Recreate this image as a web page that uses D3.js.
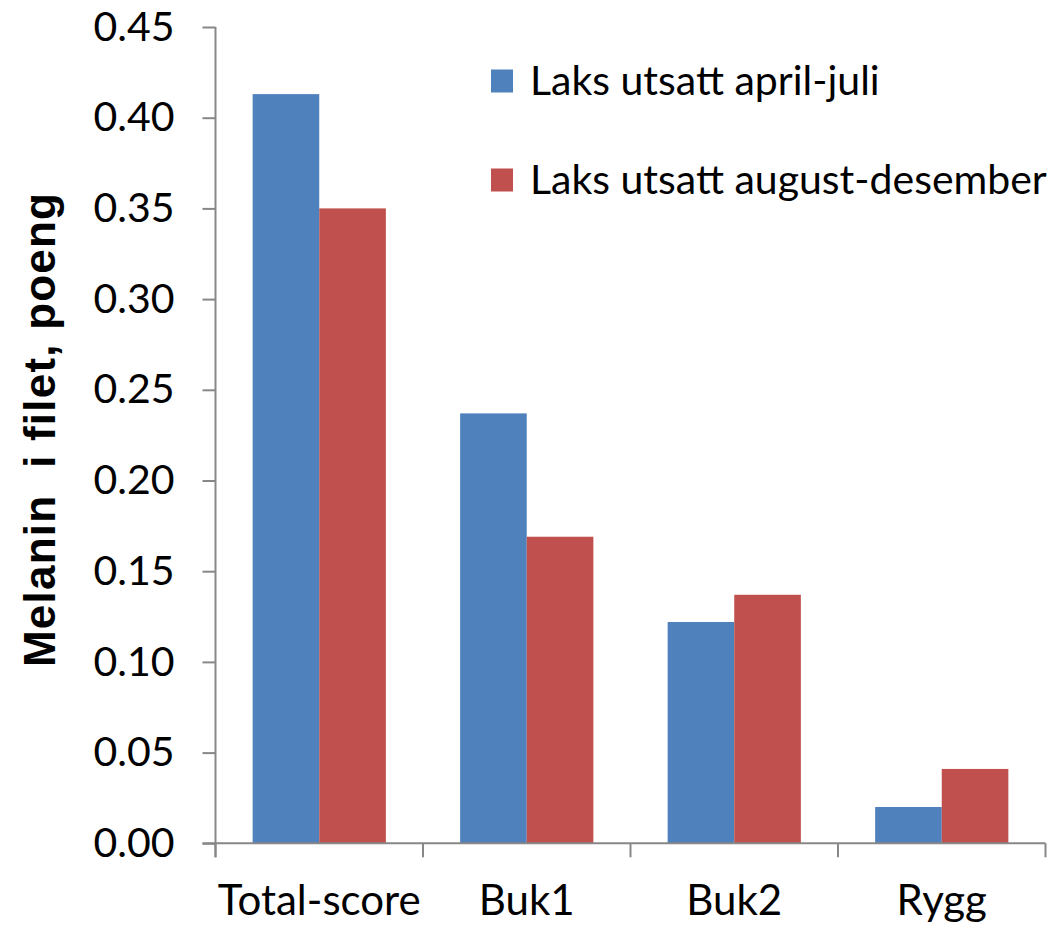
<!DOCTYPE html>
<html>
<head>
<meta charset="utf-8">
<script src="https://cdn.jsdelivr.net/npm/d3@7"></script>
<style>
  html, body { margin: 0; padding: 0; background: #fff; }
  svg { display: block; }
</style>
</head>
<body>
<svg id="chart" width="1053" height="925"></svg>
<script>
const categories = ["Total-score", "Buk1", "Buk2", "Rygg"];
const seriesNames = ["Laks utsatt april-juli", "Laks utsatt august-desember"];
const seriesAprilJuli = [0.413, 0.237, 0.122, 0.020];
const seriesAugustDesember = [0.350, 0.169, 0.137, 0.041];
const yTicks = [0, 0.05, 0.10, 0.15, 0.20, 0.25, 0.30, 0.35, 0.40, 0.45];
const yTitle = "Melanin  i filet, poeng";
const colors = ["#4F81BD", "#C0504D"];

(function () {
const svg = d3.select("#chart");
const mLeft = 215.5, mRight = 1045.5, mTop = 27, mBottom = 843.3;
const fontFam = "Lato, 'Open Sans', sans-serif";

const x = d3.scaleBand().domain(categories).range([mLeft, mRight]).paddingInner(0.358).paddingOuter(0.179);
const xs = d3.scaleBand().domain(seriesNames).range([0, x.bandwidth()]);
const y = d3.scaleLinear().domain([0, 0.45]).range([mBottom, mTop]);

const data = [seriesAprilJuli, seriesAugustDesember];

// bars
const g = svg.append("g");
categories.forEach((c, i) => {
  seriesNames.forEach((s, j) => {
    g.append("rect")
      .attr("x", x(c) + xs(s))
      .attr("y", y(data[j][i]))
      .attr("width", xs.bandwidth())
      .attr("height", y(0) - y(data[j][i]))
      .attr("fill", colors[j]);
  });
});

// y axis
const yAxis = d3.axisLeft(y).tickValues(yTicks).tickFormat(d3.format(".2f")).tickSize(13).tickPadding(28);
const ya = svg.append("g").attr("transform", `translate(${mLeft},0)`).call(yAxis);
ya.select(".domain").attr("stroke", "#878787").attr("stroke-width", 2).attr("d", `M0,${mTop}V${mBottom + 14}`);
ya.selectAll(".tick line").attr("stroke", "#878787").attr("stroke-width", 2);
ya.selectAll(".tick text").attr("font-family", fontFam).attr("font-size", 41).attr("fill", "#000");

// x axis (ticks at category boundaries)
const xg = svg.append("g");
xg.append("line").attr("x1", mLeft - 13).attr("x2", mRight).attr("y1", mBottom).attr("y2", mBottom)
  .attr("stroke", "#878787").attr("stroke-width", 2);
const tickXs = categories.map(c => x(c) - x.step() * x.paddingOuter()).concat([mRight]);
xg.selectAll("line.tk").data(tickXs).join("line").attr("class", "tk")
  .attr("x1", d => d).attr("x2", d => d).attr("y1", mBottom).attr("y2", mBottom + 14)
  .attr("stroke", "#878787").attr("stroke-width", 2);
xg.selectAll("text").data(categories).join("text")
  .attr("x", d => x(d) + x.bandwidth() / 2)
  .attr("y", 915)
  .attr("text-anchor", "middle")
  .attr("font-family", fontFam).attr("font-size", 42).attr("fill", "#000")
  .text(d => d);

// y title
svg.append("text")
  .attr("transform", `translate(55,430) rotate(-90)`)
  .attr("text-anchor", "middle")
  .attr("font-family", "'Liberation Sans', Arial, sans-serif")
  .attr("font-weight", "bold").attr("font-size", 44)
  .style("white-space", "pre")
  .attr("textLength", 474).attr("lengthAdjust", "spacing")
  .text(yTitle);

// legend
const legY = [81, 180];
seriesNames.forEach((s, j) => {
  svg.append("rect").attr("x", 491).attr("y", legY[j] - 11.5).attr("width", 22).attr("height", 23).attr("fill", colors[j]);
  svg.append("text").attr("x", 530).attr("y", legY[j]).attr("dy", "0.35em")
    .attr("font-family", fontFam).attr("font-size", 41).attr("fill", "#000").text(s);
});
})();
</script>
</body>
</html>
